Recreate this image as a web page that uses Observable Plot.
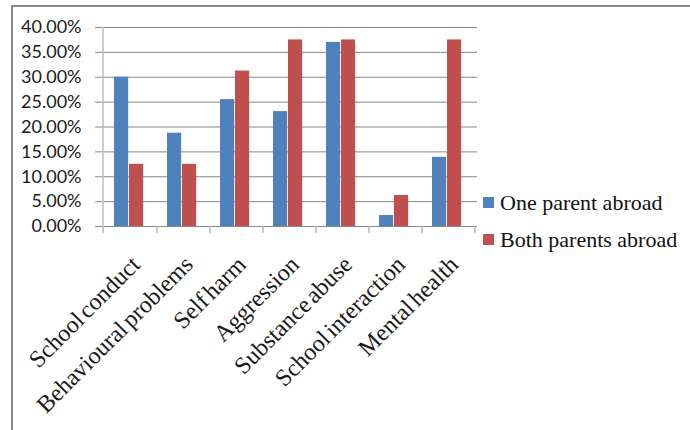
<!DOCTYPE html>
<html>
<head>
<meta charset="utf-8">
<script src="https://cdn.jsdelivr.net/npm/d3@7"></script>
<script src="https://cdn.jsdelivr.net/npm/@observablehq/plot@0.6"></script>
<style>
  html, body { margin: 0; padding: 0; background: #fff; }
  #wrap { position: relative; width: 690px; height: 430px; overflow: hidden; }
  #border { position: absolute; left: 11px; top: 5px; width: 800px; height: 600px;
            border-left: 2px solid #888; border-top: 2px solid #888; }
  #chart { position: absolute; left: 0; top: 0; }
</style>
</head>
<body>
<div id="wrap">
  <div id="border"></div>
  <div id="chart"></div>
</div>
<script>
const categories = ["School conduct", "Behavioural problems", "Self harm", "Aggression",
                    "Substance abuse", "School interaction", "Mental health"];
const seriesNames = ["One parent abroad", "Both parents abroad"];
const onePercent  = [0.300, 0.1875, 0.255, 0.231, 0.370, 0.022, 0.139];
const bothPercent = [0.125, 0.125, 0.3125, 0.375, 0.375, 0.0625, 0.375];
const yTicks = [0, 0.05, 0.10, 0.15, 0.20, 0.25, 0.30, 0.35, 0.40];
const colors = ["#4F81BD", "#C0504D"];

const W = 690, H = 430;
const mL = 100, mR = 213, mT = 27, mB = 204;
const bw = (W - mL - mR) / categories.length;
const serif = "'Liberation Serif', 'Times New Roman', Times, serif";
const sans = "Lato, 'Open Sans', sans-serif";
const pct = d3.format(".2%");

const rows = categories.map((c, i) => ({cat: c, one: onePercent[i], both: bothPercent[i]}));

const chart = Plot.plot({
  width: W, height: H,
  marginLeft: mL, marginRight: mR, marginTop: mT, marginBottom: mB,
  style: {background: "transparent", overflow: "visible"},
  x: {domain: categories, padding: 0, axis: null},
  y: {domain: [0, 0.4], axis: null},
  marks: [
    Plot.gridY({ticks: yTicks, stroke: "#878787", strokeOpacity: 1, strokeWidth: 1}),
    Plot.axisY({ticks: yTicks, tickFormat: () => "", tickSize: 5, stroke: "#878787", label: null}),
    Plot.text(yTicks, {y: d => d, text: d => pct(d), frameAnchor: "left", textAnchor: "end",
      dx: -19, fontSize: 18, fontFamily: sans, fill: "#1a1a1a"}),
    Plot.ruleX([categories[0]], {x: d => d, dx: -bw / 2, stroke: "#bdbdbd", strokeWidth: 1.5}),
    Plot.barY(rows, {x: "cat", y: "one", fill: colors[0], insetLeft: 11, insetRight: bw - 26}),
    Plot.barY(rows, {x: "cat", y: "both", fill: colors[1], insetLeft: 26, insetRight: bw - 41}),
    Plot.ruleY([0], {stroke: "#878787"}),
    Plot.axisX({ticks: categories, tickSize: 7, tickFormat: () => "", dx: bw / 2, stroke: "#b5b5b5", strokeWidth: 1.5, label: null}),
    Plot.axisX({ticks: [categories[0]], tickSize: 7, tickFormat: () => "", dx: -bw / 2, stroke: "#b5b5b5", strokeWidth: 1.5, label: null}),
    Plot.text(categories, {x: d => d, text: d => d, frameAnchor: "bottom", rotate: -45,
      textAnchor: "end", lineAnchor: "middle", dx: 6, dy: 34,
      fontSize: 24, fontFamily: serif, fill: "#1a1a1a"})
  ]
});
chart.querySelectorAll("text").forEach(t => {
  const tr = t.getAttribute("transform");
  if (tr && tr.includes("rotate")) t.style.wordSpacing = "-3px";
  if (/%$/.test(t.textContent)) {
    t.style.fontSize = "18px";
    t.style.fontFamily = sans;
  }
});
document.getElementById("chart").appendChild(chart);

// Legend (inside the SVG, to the right of the plot area)
const svg = d3.select(chart);
const lg = svg.append("g").attr("class", "legend").attr("text-anchor", "start");
const legendY = [210, 247]; // text baselines
seriesNames.forEach((name, i) => {
  lg.append("rect").attr("x", 483).attr("y", legendY[i] - 13).attr("width", 11).attr("height", 11)
    .attr("fill", colors[i]);
  lg.append("text").attr("x", 500).attr("y", legendY[i])
    .style("font-family", serif).style("font-size", "22px").attr("fill", "#111")
    .attr("text-anchor", "start")
    .text(name);
});
</script>
</body>
</html>
